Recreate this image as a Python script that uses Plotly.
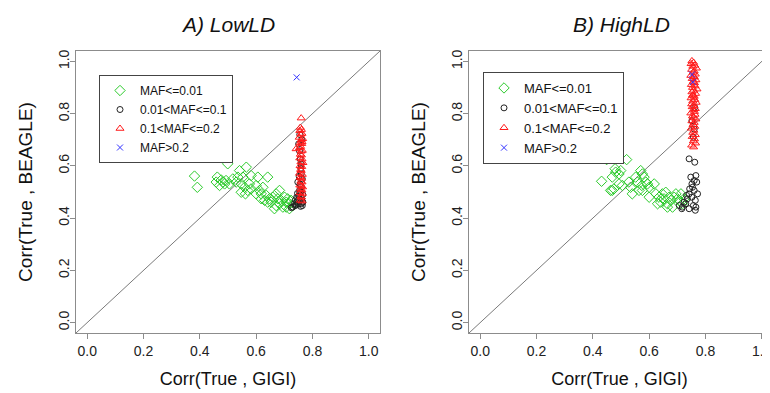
import plotly.graph_objects as go

# ---------------- data ----------------
titles = ["A) LowLD", "B) HighLD"]
x_title = "Corr(True , GIGI)"
y_title = "Corr(True , BEAGLE)"
tick_vals = [0.0, 0.2, 0.4, 0.6, 0.8, 1.0]
tick_text = ["0.0", "0.2", "0.4", "0.6", "0.8", "1.0"]
legend_names = ["MAF<=0.01", "0.01<MAF<=0.1", "0.1<MAF<=0.2", "MAF>0.2"]
diag = [-0.1, 1.1]

# Panel A (LowLD)
a_green_x = [0.381, 0.391, 0.499, 0.462, 0.476, 0.482, 0.470, 0.488, 0.493, 0.541, 0.565, 0.582, 0.606, 0.641,
             0.529, 0.547, 0.559, 0.576, 0.570, 0.547, 0.562, 0.582, 0.600, 0.612, 0.624, 0.618, 0.636, 0.647,
             0.659, 0.671, 0.683, 0.677, 0.689, 0.701, 0.707, 0.718, 0.712, 0.671, 0.683, 0.695, 0.718, 0.730,
             0.665, 0.630, 0.641, 0.600, 0.517, 0.505, 0.535, 0.553, 0.653, 0.618, 0.707, 0.724, 0.458]
a_green_y = [0.561, 0.518, 0.608, 0.557, 0.546, 0.538, 0.525, 0.531, 0.544, 0.582, 0.595, 0.563, 0.557, 0.557,
             0.538, 0.531, 0.518, 0.531, 0.506, 0.499, 0.493, 0.512, 0.525, 0.506, 0.518, 0.493, 0.487, 0.474,
             0.480, 0.493, 0.506, 0.474, 0.468, 0.480, 0.461, 0.455, 0.474, 0.448, 0.455, 0.442, 0.436, 0.448,
             0.436, 0.468, 0.461, 0.493, 0.550, 0.531, 0.557, 0.557, 0.461, 0.474, 0.442, 0.468, 0.538]
a_black_x = [0.730, 0.736, 0.744, 0.754, 0.760, 0.766, 0.748, 0.754, 0.748, 0.760, 0.754, 0.751, 0.760, 0.742,
             0.758, 0.764, 0.750, 0.745, 0.762, 0.755, 0.740, 0.752, 0.766, 0.758, 0.747, 0.761, 0.756, 0.764,
             0.753, 0.759, 0.757, 0.762, 0.755, 0.765, 0.738, 0.725]
a_black_y = [0.442, 0.455, 0.480, 0.493, 0.455, 0.461, 0.468, 0.506, 0.538, 0.606, 0.657, 0.684, 0.569, 0.450,
             0.445, 0.448, 0.455, 0.462, 0.475, 0.470, 0.470, 0.485, 0.490, 0.500, 0.495, 0.520, 0.530, 0.550,
             0.560, 0.590, 0.625, 0.700, 0.720, 0.460, 0.448, 0.440]
a_red_x = [0.757, 0.761, 0.755, 0.763, 0.759, 0.753, 0.765, 0.760, 0.756, 0.762, 0.758, 0.754, 0.764, 0.760,
           0.757, 0.761, 0.755, 0.763, 0.759, 0.766, 0.756, 0.762, 0.758, 0.760, 0.754, 0.764, 0.757, 0.761,
           0.759, 0.763, 0.755, 0.760, 0.758, 0.762, 0.756, 0.764, 0.759, 0.761, 0.757, 0.763, 0.742, 0.760,
           0.765, 0.758, 0.763]
a_red_y = [0.747, 0.739, 0.735, 0.724, 0.721, 0.709, 0.704, 0.699, 0.688, 0.685, 0.674, 0.669, 0.659, 0.656,
           0.644, 0.641, 0.630, 0.626, 0.615, 0.612, 0.600, 0.597, 0.586, 0.582, 0.571, 0.567, 0.556, 0.552,
           0.541, 0.538, 0.526, 0.523, 0.511, 0.508, 0.497, 0.494, 0.483, 0.480, 0.468, 0.465, 0.665, 0.783,
           0.519, 0.557, 0.692]
a_blue_x = [0.744]
a_blue_y = [0.939]

# Panel B (HighLD)
b_green_x = [0.431, 0.449, 0.520, 0.479, 0.481, 0.469, 0.493, 0.499, 0.475, 0.469, 0.493, 0.528, 0.534, 0.540,
             0.552, 0.558, 0.570, 0.576, 0.582, 0.588, 0.594, 0.574, 0.564, 0.576, 0.600, 0.618, 0.624, 0.635,
             0.647, 0.653, 0.659, 0.665, 0.671, 0.677, 0.665, 0.683, 0.689, 0.695, 0.701, 0.707, 0.718, 0.713,
             0.641, 0.630, 0.505, 0.463, 0.600, 0.724]
b_green_y = [0.541, 0.624, 0.624, 0.589, 0.576, 0.557, 0.569, 0.582, 0.512, 0.506, 0.531, 0.538, 0.518, 0.493,
             0.557, 0.538, 0.582, 0.569, 0.557, 0.538, 0.531, 0.525, 0.506, 0.506, 0.480, 0.531, 0.493, 0.480,
             0.493, 0.474, 0.499, 0.455, 0.480, 0.468, 0.442, 0.442, 0.480, 0.493, 0.474, 0.468, 0.455, 0.493,
             0.461, 0.455, 0.525, 0.506, 0.518, 0.474]
b_black_x = [0.718, 0.730, 0.736, 0.742, 0.754, 0.760, 0.766, 0.752, 0.744, 0.764, 0.757, 0.766, 0.742, 0.772,
             0.733, 0.724, 0.760, 0.748, 0.769, 0.707, 0.716, 0.752, 0.764, 0.742, 0.762, 0.760, 0.757, 0.762,
             0.752]
b_black_y = [0.442, 0.455, 0.474, 0.493, 0.518, 0.544, 0.563, 0.531, 0.512, 0.468, 0.448, 0.442, 0.436, 0.493,
             0.487, 0.461, 0.506, 0.557, 0.538, 0.448, 0.436, 0.480, 0.430, 0.627, 0.614, 0.741, 0.710, 0.824,
             0.773]
b_red_x = [0.752, 0.758, 0.749, 0.762, 0.755, 0.768, 0.751, 0.760, 0.756, 0.764, 0.748, 0.759, 0.753, 0.766,
           0.757, 0.761, 0.750, 0.763, 0.754, 0.770, 0.758, 0.752, 0.765, 0.756, 0.760, 0.749, 0.762, 0.755,
           0.767, 0.751, 0.759, 0.753, 0.764, 0.757, 0.761, 0.748, 0.763, 0.754, 0.758, 0.766, 0.752, 0.760,
           0.756, 0.762, 0.750, 0.759, 0.755, 0.764, 0.753, 0.761, 0.757, 0.765, 0.751, 0.758, 0.760, 0.754]
b_red_y = [1.002, 0.996, 0.991, 0.985, 0.981, 0.974, 0.969, 0.963, 0.958, 0.951, 0.946, 0.941, 0.934, 0.929,
           0.923, 0.918, 0.911, 0.906, 0.900, 0.894, 0.889, 0.883, 0.877, 0.871, 0.866, 0.860, 0.854, 0.848,
           0.843, 0.837, 0.831, 0.826, 0.819, 0.814, 0.808, 0.802, 0.797, 0.791, 0.785, 0.779, 0.772, 0.766,
           0.758, 0.751, 0.744, 0.736, 0.728, 0.719, 0.712, 0.703, 0.695, 0.687, 0.679, 0.672, 0.940, 0.870]
b_blue_x = [0.752, 0.755]
b_blue_y = [0.950, 0.921]

# ---------------- styling ----------------
FONT = "Liberation Sans"
GREEN = "#2BCB2B"
BLACK = "#222222"
RED = "#FF1A1A"
BLUE = "#3333FF"
AXIS_GRAY = "#8C8C8C"

fig = go.Figure()

def add_panel(xa, ya, legend, gx, gy, kx, ky, rx, ry, bx, by):
    common = dict(mode="markers", xaxis=xa, yaxis=ya, legend=legend)
    fig.add_trace(go.Scatter(x=diag, y=diag, mode="lines", xaxis=xa, yaxis=ya,
                             line=dict(color="#7A7A7A", width=1), showlegend=False, hoverinfo="skip"))
    fig.add_trace(go.Scatter(x=gx, y=gy, name=legend_names[0],
                             marker=dict(symbol="diamond-open", size=8, color=GREEN, line=dict(width=1)), **common))
    fig.add_trace(go.Scatter(x=kx, y=ky, name=legend_names[1],
                             marker=dict(symbol="circle-open", size=6, color=BLACK, line=dict(width=1)), **common))
    fig.add_trace(go.Scatter(x=rx, y=ry, name=legend_names[2],
                             marker=dict(symbol="triangle-up-open", size=7, color=RED, line=dict(width=1)), **common))
    fig.add_trace(go.Scatter(x=bx, y=by, name=legend_names[3],
                             marker=dict(symbol="x-thin-open", size=6, color=BLUE, line=dict(width=1)), **common))

add_panel("x", "y", "legend", a_green_x, a_green_y, a_black_x, a_black_y, a_red_x, a_red_y, a_blue_x, a_blue_y)
add_panel("x2", "y2", "legend2", b_green_x, b_green_y, b_black_x, b_black_y, b_red_x, b_red_y, b_blue_x, b_blue_y)

# the page body adds an 8px margin, so the figure is sized to the visible window minus that offset
OFF = 8
W, H = 770 - OFF, 393 - OFF
def px_x(p):
    return (p - OFF) / W
def px_y(p):
    return 1 - (p - OFF) / H

axis_common = dict(
    showline=True, mirror=True, linecolor=AXIS_GRAY, linewidth=1,
    ticks="outside", ticklen=5, tickcolor=AXIS_GRAY, tickwidth=1,
    tickvals=tick_vals, ticktext=tick_text, showgrid=False, zeroline=False,
    tickfont=dict(family=FONT, size=14, color="#222222"),
    automargin=False, ticklabeloverflow="allow",
)
xtitle = dict(text=x_title, font=dict(family=FONT, size=18, color="#111111"), standoff=14)
ytitle = dict(text=y_title, font=dict(family=FONT, size=19, color="#111111"), standoff=18)

fig.update_layout(
    width=W, height=H,
    margin=dict(l=0, r=0, t=0, b=0),
    paper_bgcolor="white", plot_bgcolor="white",
    xaxis=dict(domain=[px_x(76), px_x(380)], range=[-0.04, 1.04], anchor="y", title=xtitle, **axis_common),
    yaxis=dict(domain=[px_y(333), px_y(51)], range=[-0.04, 1.04], anchor="x", tickangle=-90, title=ytitle,
               ticklabelstandoff=-5, **axis_common),
    xaxis2=dict(domain=[px_x(469), 1.0], range=[-0.04, 1.04 - 3 / 281.5], anchor="y2", title=xtitle, **axis_common),
    yaxis2=dict(domain=[px_y(333), px_y(51)], range=[-0.04, 1.04], anchor="x2", tickangle=-90, title=ytitle,
                ticklabelstandoff=-5, **axis_common),
    legend=dict(x=px_x(99), y=px_y(75), xanchor="left", yanchor="top", bgcolor="white",
                bordercolor="#444444", borderwidth=1, font=dict(family=FONT, size=12, color="#111111"),
                itemwidth=30, tracegroupgap=0),
    legend2=dict(x=px_x(483), y=px_y(72), xanchor="left", yanchor="top", bgcolor="white",
                 bordercolor="#444444", borderwidth=1, font=dict(family=FONT, size=13, color="#111111"),
                 itemwidth=30, tracegroupgap=0),
    showlegend=True,
    annotations=[
        dict(text="<i>" + titles[0] + "</i>", x=px_x(228), y=px_y(24), xref="paper", yref="paper",
             xanchor="center", yanchor="middle",
             showarrow=False, font=dict(family=FONT, size=21, color="#111111")),
        dict(text="<i>" + titles[1] + "</i>", x=px_x(621), y=px_y(24), xref="paper", yref="paper",
             xanchor="center", yanchor="middle",
             showarrow=False, font=dict(family=FONT, size=21, color="#111111")),
    ],
)

fig.write_html("out.html")
